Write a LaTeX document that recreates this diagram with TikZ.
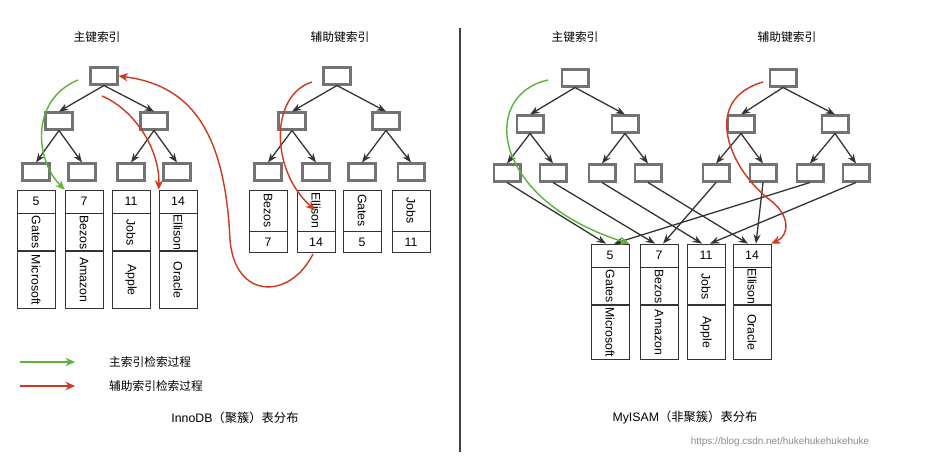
\documentclass[tikz,border=0pt]{standalone}
\usepackage{fontspec}
\setmainfont{Liberation Sans}
\newfontfamily\cjk{Noto Sans CJK SC}
\usetikzlibrary{arrows.meta}
\definecolor{gr}{HTML}{5BB33A}
\definecolor{rd}{HTML}{D0391E}
\begin{document}
\begin{tikzpicture}[x=0.03cm,y=-0.03cm,
  ib/.style={draw=black!55,line width=2pt,minimum width=0.8cm,minimum height=0.5cm,inner sep=0pt},
  cell/.style={draw=black!80,line width=0.6pt,minimum width=38*0.03cm,inner sep=0pt,font=\fontsize{10.5}{12}\selectfont},
  ed/.style={draw=black!80,line width=1.1pt,-{Stealth[length=8pt,width=6pt]}},
  ttl/.style={font=\cjk\fontsize{10}{12}\selectfont},
  ga/.style={draw=gr,line width=1.2pt,-{Stealth[length=8pt,width=7pt]}},
  ra/.style={draw=rd,line width=1.2pt,-{Stealth[length=8pt,width=7pt]}}]
\useasboundingbox (0,0) rectangle (928,461);
\fill[white] (0,0) rectangle (928,461);
\draw[black!75,line width=2pt] (460,28) -- (460,452);
% titles
\node[ttl] (t1) at (97,37) {主键索引};
\node[ttl] (t2) at (340,37) {辅助键索引};
\node[ttl] (t3) at (575,37) {主键索引};
\node[ttl] (t4) at (787,37) {辅助键索引};
% ---- left primary tree
\node[ib] (a0) at (104,76) {};
\node[ib] (a1) at (59,121) {};
\node[ib] (a2) at (154,121) {};
\node[ib] (a3) at (36,172) {};
\node[ib] (a4) at (82,172) {};
\node[ib] (a5) at (131,172) {};
\node[ib] (a6) at (177,172) {};
\draw[ed] (a0.south) -- (a1.north); \draw[ed] (a0.south) -- (a2.north);
\draw[ed] (a1.south) -- (a3.north); \draw[ed] (a1.south) -- (a4.north);
\draw[ed] (a2.south) -- (a5.north); \draw[ed] (a2.south) -- (a6.north);
\foreach \n/\x/\k/\nm/\co in {p1/36/5/Gates/Microsoft,p2/84/7/Bezos/Amazon,p3/131/11/Jobs/Apple,p4/178/14/Ellison/Oracle}{
  \node[cell,minimum height=23*0.03cm] (\n k) at (\x,201.5) {\k};
  \node[cell,minimum height=37*0.03cm,anchor=north] (\n n) at (\n k.south) {\rotatebox{-90}{\nm}};
  \node[cell,minimum height=57*0.03cm,anchor=north] (\n c) at (\n n.south) {\rotatebox{-90}{\co}};
}
% ---- left secondary tree
\node[ib] (b0) at (337,76) {};
\node[ib] (b1) at (292,121) {};
\node[ib] (b2) at (386,121) {};
\node[ib] (b3) at (268,172) {};
\node[ib] (b4) at (316,172) {};
\node[ib] (b5) at (362,172) {};
\node[ib] (b6) at (411,172) {};
\draw[ed] (b0.south) -- (b1.north); \draw[ed] (b0.south) -- (b2.north);
\draw[ed] (b1.south) -- (b3.north); \draw[ed] (b1.south) -- (b4.north);
\draw[ed] (b2.south) -- (b5.north); \draw[ed] (b2.south) -- (b6.north);
\foreach \n/\x/\k/\nm in {s1/268/7/Bezos,s2/316/14/Ellison,s3/362/5/Gates,s4/411/11/Jobs}{
  \node[cell,minimum height=41*0.03cm] (\n n) at (\x,210.5) {\rotatebox{-90}{\nm}};
  \node[cell,minimum height=21*0.03cm,anchor=north] (\n k) at (\n n.south) {\k};
}
% ---- right primary tree
\node[ib] (c0) at (575,78) {};
\node[ib] (c1) at (530,124) {};
\node[ib] (c2) at (625,124) {};
\node[ib] (c3) at (507,173) {};
\node[ib] (c4) at (553,173) {};
\node[ib] (c5) at (602,173) {};
\node[ib] (c6) at (648,173) {};
\draw[ed] (c0.south) -- (c1.north); \draw[ed] (c0.south) -- (c2.north);
\draw[ed] (c1.south) -- (c3.north); \draw[ed] (c1.south) -- (c4.north);
\draw[ed] (c2.south) -- (c5.north); \draw[ed] (c2.south) -- (c6.north);
% right secondary tree
\node[ib] (d0) at (783,78) {};
\node[ib] (d1) at (741,124) {};
\node[ib] (d2) at (835,124) {};
\node[ib] (d3) at (716,173) {};
\node[ib] (d4) at (763,173) {};
\node[ib] (d5) at (810,173) {};
\node[ib] (d6) at (856,173) {};
\draw[ed] (d0.south) -- (d1.north); \draw[ed] (d0.south) -- (d2.north);
\draw[ed] (d1.south) -- (d3.north); \draw[ed] (d1.south) -- (d4.north);
\draw[ed] (d2.south) -- (d5.north); \draw[ed] (d2.south) -- (d6.north);
\foreach \n/\x/\k/\nm/\co in {m1/610/5/Gates/Microsoft,m2/659/7/Bezos/Amazon,m3/706/11/Jobs/Apple,m4/752/14/Ellison/Oracle}{
  \node[cell,minimum height=23*0.03cm] (\n k) at (\x,255.5) {\k};
  \node[cell,minimum height=37*0.03cm,anchor=north] (\n n) at (\n k.south) {\rotatebox{-90}{\nm}};
  \node[cell,minimum height=54*0.03cm,anchor=north] (\n c) at (\n n.south) {\rotatebox{-90}{\co}};
}
\draw[ed] (c3.south) -- ([xshift=-4*0.03cm]m1k.north);
\draw[ed] (c4.south) -- ([xshift=-4*0.03cm]m2k.north);
\draw[ed] (c5.south) -- ([xshift=-4*0.03cm]m3k.north);
\draw[ed] (c6.south) -- ([xshift=-4*0.03cm]m4k.north);
\draw[ed] (d3.south) -- ([xshift=4*0.03cm]m2k.north);
\draw[ed] (d4.south) -- ([xshift=4*0.03cm]m4k.north);
\draw[ed] (d5.south) -- ([xshift=4*0.03cm]m1k.north);
\draw[ed] (d6.south) -- ([xshift=4*0.03cm]m3k.north);
% ---- coloured paths
\coordinate (g1) at (78,80);
\draw[ga] (g1) .. controls (30,100) and (35,160) .. (p2k.north west);
\coordinate (r1) at (102,96);
\draw[ra] (r1) .. controls (135,110) and (160,150) .. (p4k.north west);
\coordinate (r2) at (313,254);
\draw[ra] (r2) .. controls (290,300) and (235,300) .. (230,240) .. controls (225,130) and (190,85) .. (a0.east);
\coordinate (r3) at (312,82);
\draw[ra] (r3) .. controls (270,95) and (270,170) .. (315,210);
\coordinate (g2) at (548,80);
\draw[ga] (g2) .. controls (480,95) and (490,200) .. (m1k.north east);
\coordinate (r4) at (763,82);
\draw[ra] (r4) .. controls (700,100) and (730,170) .. (770,200) .. controls (790,215) and (790,235) .. (m4k.north east);
% legend
\coordinate (lg0) at (20,362); \coordinate (lg1) at (75,362);
\coordinate (lr0) at (20,386); \coordinate (lr1) at (75,386);
\draw[ga] (lg0) -- (lg1);
\draw[ra] (lr0) -- (lr1);
\node[ttl,anchor=west] (lt1) at (105,362) {主索引检索过程};
\node[ttl,anchor=west] (lt2) at (105,386) {辅助索引检索过程};
\node[font=\fontsize{10.5}{12}\selectfont] (cap1) at (235,418) {InnoDB\cjk（聚簇）表分布};
\node[font=\fontsize{10.5}{12}\selectfont] (cap2) at (685,418) {MyISAM\cjk（非聚簇）表分布};
\node[text=black!45,font=\fontsize{8.5}{10}\selectfont] (wm) at (780,442) {https://blog.csdn.net/hukehukehukehuke};
\end{tikzpicture}
\end{document}
